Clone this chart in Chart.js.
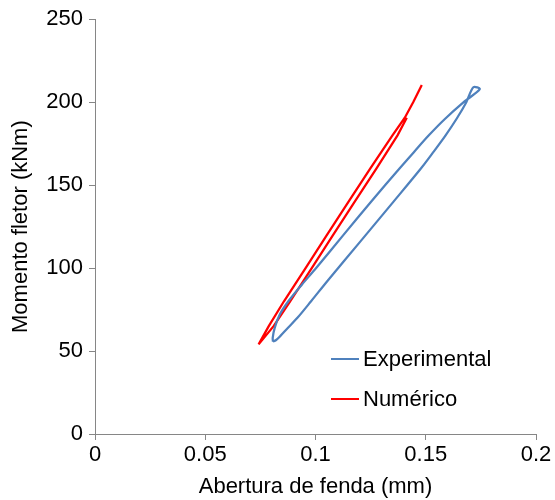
<!DOCTYPE html>
<html>
<head>
<meta charset="utf-8">
<script src="https://cdn.jsdelivr.net/npm/chart.js@4/dist/chart.umd.min.js"></script>
<style>
  html, body { margin: 0; padding: 0; background: #fff; }
  #wrap { position: relative; width: 555px; height: 500px; }
  #legend { position: absolute; left: 331px; top: 339px; font-family: "Liberation Sans", Arial, sans-serif; font-size: 22px; color: #000; }
  .item { display: flex; align-items: center; height: 40px; }
  .sw { width: 28px; height: 2px; margin-right: 4px; }
</style>
</head>
<body>
<div id="wrap">
  <canvas id="c" width="555" height="500"></canvas>
  <div id="legend"></div>
</div>
<script>
// ---- Data ----
const seriesNames = ['Experimental', 'Numérico'];
const seriesColors = ['#4F81BD', '#FF0000'];

// Experimental loop (crack opening, mm / bending moment, kNm)
const expX = [0.0807, 0.0806, 0.0815, 0.0838, 0.0877, 0.0938, 0.1003, 0.1127, 0.1252, 0.1381, 0.1447, 0.1514, 0.1588, 0.1672, 0.1745,
              0.1716, 0.1684, 0.1640, 0.1590, 0.1535, 0.1478, 0.1353, 0.1202, 0.1055, 0.0980, 0.0918, 0.0868, 0.0840, 0.0820, 0.0807];
const expY = [55.7, 58, 64, 72, 80, 90, 100, 120, 140, 160, 170, 180, 190, 200, 207.8,
              209, 200, 190, 180, 170, 160, 139.9, 115.8, 92.4, 80, 70, 63, 59, 56.5, 55.7];

// Numerical curve
const numX = [0.1414, 0.1372, 0.1276, 0.1178, 0.1080, 0.0983, 0.0885, 0.0810, 0.0742,
              0.0788, 0.0857, 0.0955, 0.1052, 0.1150, 0.1248, 0.1349, 0.1405, 0.1443, 0.1482];
const numY = [190.6, 180, 160, 140, 120, 100, 80, 65, 54,
              65, 80, 100, 120, 140, 160, 180, 190.6, 200, 210.3];

const xTickLabels = ['0', '0.05', '0.1', '0.15', '0.2'];
const yTickLabels = ['0', '50', '100', '150', '200', '250'];
const xTitle = 'Abertura de fenda (mm)';
const yTitle = 'Momento fletor (kNm)';

// ---- Chart ----
const toPts = (xs, ys) => xs.map((x, i) => ({ x: x, y: ys[i] }));
const FONT = '"Liberation Sans", Arial, sans-serif';
const AXIS = '#868686';

new Chart(document.getElementById('c'), {
  type: 'scatter',
  data: {
    datasets: [
      { label: seriesNames[0], data: toPts(expX, expY), borderColor: seriesColors[0], backgroundColor: seriesColors[0],
        showLine: true, borderWidth: 2.25, pointRadius: 0, tension: 0.3 },
      { label: seriesNames[1], data: toPts(numX, numY), borderColor: seriesColors[1], backgroundColor: seriesColors[1],
        showLine: true, borderWidth: 2.25, pointRadius: 0, tension: 0 }
    ]
  },
  options: {
    responsive: false,
    animation: false,
    layout: { padding: { top: 18, right: 19, left: 0, bottom: 0 } },
    plugins: { legend: { display: false }, tooltip: { enabled: false } },
    scales: {
      x: {
        type: 'linear', min: 0, max: 0.2,
        ticks: { stepSize: 0.05, color: '#000', font: { family: FONT, size: 22 }, padding: 2,
                 maxRotation: 0, callback: (v, i) => xTickLabels[i] },
        grid: { drawOnChartArea: false, drawTicks: true, tickLength: 6, color: AXIS },
        border: { color: AXIS, width: 1 },
        title: { display: true, text: xTitle, color: '#000', font: { family: FONT, size: 22 }, padding: 0 },
        afterFit: s => { s.height = 66; }
      },
      y: {
        type: 'linear', min: 0, max: 250,
        ticks: { stepSize: 50, color: '#000', font: { family: FONT, size: 22 }, padding: 6,
                 callback: (v, i) => yTickLabels[i] },
        grid: { drawOnChartArea: false, drawTicks: true, tickLength: 6, color: AXIS },
        border: { color: AXIS, width: 1 },
        title: { display: true, text: yTitle, color: '#000', font: { family: FONT, size: 22 }, padding: { top: 8, bottom: 0 } },
        afterFit: s => { s.width = 95; }
      }
    }
  }
});

// HTML legend built from the series arrays
const lg = document.getElementById('legend');
seriesNames.forEach((n, i) => {
  const d = document.createElement('div'); d.className = 'item';
  const sw = document.createElement('span'); sw.className = 'sw'; sw.style.background = seriesColors[i];
  const t = document.createElement('span'); t.textContent = n;
  d.appendChild(sw); d.appendChild(t); lg.appendChild(d);
});
</script>
</body>
</html>
